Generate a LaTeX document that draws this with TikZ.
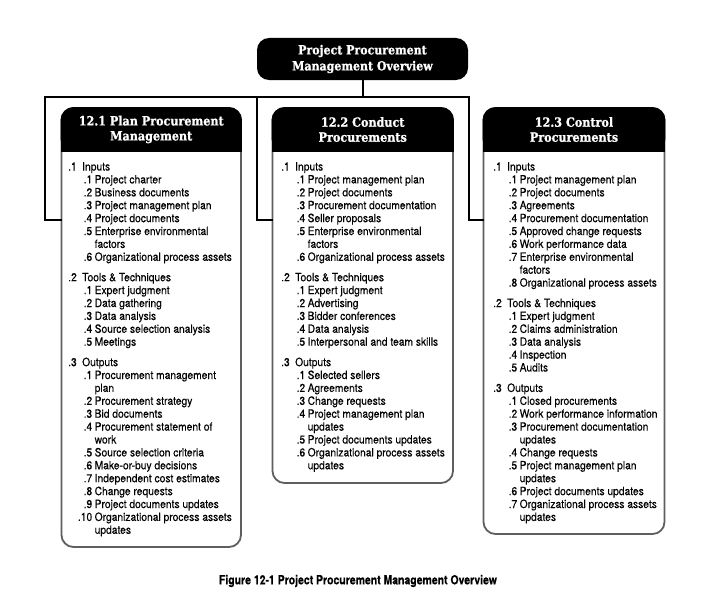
\documentclass[tikz,border=0pt]{standalone}
\usepackage{fontspec}
\setmainfont{TeX Gyre Heros}[FakeStretch=0.9, FakeBold=0.3]
\newfontfamily\headfont{DejaVu Serif}[FakeStretch=0.88, FakeBold=1]
\newfontfamily\capfont{TeX Gyre Heros}[FakeStretch=0.83, FakeBold=0.3]

% list line helpers: section line, numbered item, wrapped continuation
\newcommand\listsec[2]{\makebox[14pt][l]{#1}#2}
\newcommand\listitm[2]{\hspace*{14pt}\makebox[10pt][r]{#1}\hspace*{2.5pt}#2}
\newcommand\listcont[1]{\hspace*{26.5pt}#1}

\definecolor{boxgray}{RGB}{95,95,95}

\begin{document}
\begin{tikzpicture}[x=1pt,y=-1pt,
  topbox/.style={rectangle, fill=black, rounded corners=12pt, minimum width=211pt,
    minimum height=42pt, inner sep=0pt, text=white, align=center,
    font=\headfont\bfseries\fontsize{12.5}{16}\selectfont},
  procbox/.style={rectangle, draw=boxgray, line width=1.8pt, fill=white,
    rounded corners=12pt, inner sep=0pt, outer sep=0pt},
  headfill/.style={draw=black, fill=black, line width=1.8pt},
  headtext/.style={text=white, align=center, inner sep=0pt,
    font=\headfont\bfseries\fontsize{12.7}{15}\selectfont},
  listtext/.style={anchor=north west, inner sep=0pt, align=left,
    font=\fontsize{11.4}{12.9}\selectfont},
  link/.style={draw=black, line width=2pt, line join=miter},
  caption/.style={inner sep=0pt, font=\capfont\bfseries\fontsize{12.6}{14}\selectfont}
]
\useasboundingbox (0,0) rectangle (717,610);
\fill[white] (0,0) rectangle (717,610);

% helper levels
\coordinate (bus) at (0,97);
\coordinate (lev) at (0,220);
\coordinate (hb) at (0,151);
\coordinate (hm) at (0,135);
\coordinate (b1) at (45,97);
\coordinate (b2) at (257,97);
\coordinate (b3) at (469,97);

% overview box
\node[topbox] (top) at (362.5,59) {Project Procurement\\Management Overview};

% process boxes
\node[procbox, minimum width=179.5pt, minimum height=439pt] (box1) at (151.25,327.5) {};
\node[procbox, minimum width=180.5pt, minimum height=375pt] (box2) at (362.75,295.5) {};
\node[procbox, minimum width=181pt, minimum height=426pt] (box3) at (574,321) {};

% connectors
\draw[link] (top.south) -- (top.south |- bus);
\draw[link] (box1.west |- lev) -| (b1) -- (b3) |- (box3.west |- lev);
\draw[link] (b2) |- (box2.west |- lev);

% black header bands
\foreach \b in {box1,box2,box3}{
  \filldraw[headfill, rounded corners=12pt] (\b.north west) rectangle (\b.east |- hb);
  \filldraw[headfill] (\b.west |- hm) rectangle (\b.east |- hb);
}

\node[headtext] (h1) at (151.25,129.5) {12.1 Plan Procurement\\Management};
\node[headtext] (h2) at (362.75,129.5) {12.2 Conduct\\Procurements};
\node[headtext] (h3) at (574,129.5) {12.3 Control\\Procurements};

% process contents
\node[listtext] (t1) at (68,162) {%
\listsec{.1}{Inputs}\\
\listitm{.1}{Project charter}\\
\listitm{.2}{Business documents}\\
\listitm{.3}{Project management plan}\\
\listitm{.4}{Project documents}\\
\listitm{.5}{Enterprise environmental}\\
\listcont{factors}\\
\listitm{.6}{Organizational process assets}\\[7.5pt]
\listsec{.2}{Tools \& Techniques}\\
\listitm{.1}{Expert judgment}\\
\listitm{.2}{Data gathering}\\
\listitm{.3}{Data analysis}\\
\listitm{.4}{Source selection analysis}\\
\listitm{.5}{Meetings}\\[7.5pt]
\listsec{.3}{Outputs}\\
\listitm{.1}{Procurement management}\\
\listcont{plan}\\
\listitm{.2}{Procurement strategy}\\
\listitm{.3}{Bid documents}\\
\listitm{.4}{Procurement statement of}\\
\listcont{work}\\
\listitm{.5}{Source selection criteria}\\
\listitm{.6}{Make-or-buy decisions}\\
\listitm{.7}{Independent cost estimates}\\
\listitm{.8}{Change requests}\\
\listitm{.9}{Project documents updates}\\
\listitm{.10}{Organizational process assets}\\
\listcont{updates}};

\node[listtext] (t2) at (281,162) {%
\listsec{.1}{Inputs}\\
\listitm{.1}{Project management plan}\\
\listitm{.2}{Project documents}\\
\listitm{.3}{Procurement documentation}\\
\listitm{.4}{Seller proposals}\\
\listitm{.5}{Enterprise environmental}\\
\listcont{factors}\\
\listitm{.6}{Organizational process assets}\\[7.5pt]
\listsec{.2}{Tools \& Techniques}\\
\listitm{.1}{Expert judgment}\\
\listitm{.2}{Advertising}\\
\listitm{.3}{Bidder conferences}\\
\listitm{.4}{Data analysis}\\
\listitm{.5}{Interpersonal and team skills}\\[7.5pt]
\listsec{.3}{Outputs}\\
\listitm{.1}{Selected sellers}\\
\listitm{.2}{Agreements}\\
\listitm{.3}{Change requests}\\
\listitm{.4}{Project management plan}\\
\listcont{updates}\\
\listitm{.5}{Project documents updates}\\
\listitm{.6}{Organizational process assets}\\
\listcont{updates}};

\node[listtext] (t3) at (493,162) {%
\listsec{.1}{Inputs}\\
\listitm{.1}{Project management plan}\\
\listitm{.2}{Project documents}\\
\listitm{.3}{Agreements}\\
\listitm{.4}{Procurement documentation}\\
\listitm{.5}{Approved change requests}\\
\listitm{.6}{Work performance data}\\
\listitm{.7}{Enterprise environmental}\\
\listcont{factors}\\
\listitm{.8}{Organizational process assets}\\[7.5pt]
\listsec{.2}{Tools \& Techniques}\\
\listitm{.1}{Expert judgment}\\
\listitm{.2}{Claims administration}\\
\listitm{.3}{Data analysis}\\
\listitm{.4}{Inspection}\\
\listitm{.5}{Audits}\\[7.5pt]
\listsec{.3}{Outputs}\\
\listitm{.1}{Closed procurements}\\
\listitm{.2}{Work performance information}\\
\listitm{.3}{Procurement documentation}\\
\listcont{updates}\\
\listitm{.4}{Change requests}\\
\listitm{.5}{Project management plan}\\
\listcont{updates}\\
\listitm{.6}{Project documents updates}\\
\listitm{.7}{Organizational process assets}\\
\listcont{updates}};

\node[caption] (cap) at (358,581) {Figure 12-1 Project Procurement Management Overview};
\end{tikzpicture}
\end{document}
